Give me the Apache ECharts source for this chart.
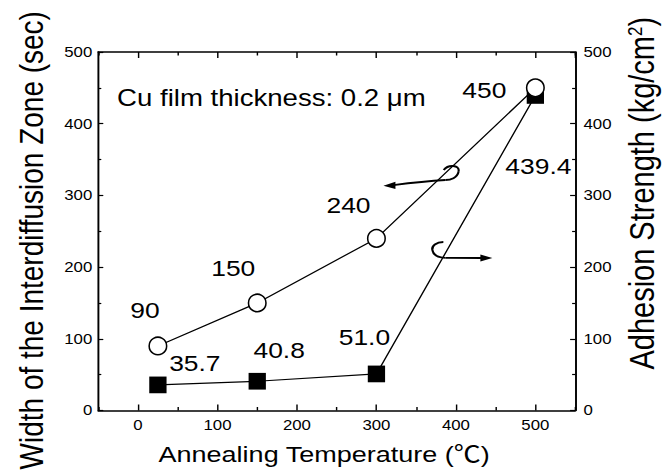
<!DOCTYPE html>
<html>
<head>
<meta charset="utf-8">
<script src="https://cdn.jsdelivr.net/npm/echarts@6/dist/echarts.min.js"></script>
<style>
  html, body { margin: 0; padding: 0; background: #fff; overflow: hidden; }
  #wrap { width: 662px; height: 475px; overflow: hidden; }
  #chart { height: 475px; transform-origin: 0 0; }
</style>
</head>
<body>
<div id="wrap"><div id="chart"></div></div>
<script>
// Annealing temperature of each sample (°C)
const temperatures = [25, 150, 300, 500];
// Width of the interdiffusion zone (sec), left axis, open circles
const interdiffusionWidth = [90, 150, 240, 450];
// Adhesion strength (kg/cm²), right axis, filled squares
const adhesionStrength = [35.7, 40.8, 51.0, 439.4];
// Axis ranges and tick steps
const xRange = [-50, 550];
const yRange = [0, 500];
const xTickStep = 100;
const yTickStep = 100;

// Where each value label sits relative to its marker (px, before horizontal stretch)
const widthLabelOffsets = [[-10.8, -36], [-20, -35], [-23.3, -33], [-42.5, 2]];
const strengthLabelOffsets = [[30.8, -22], [18.3, -31], [-10, -37], [2.5, 71]];

// The figure is drawn slightly wide: render narrower, then stretch horizontally
const SX = 1.2;
const W = 662 / SX;
const el = document.getElementById('chart');
el.style.width = W + 'px';
el.style.transform = 'scaleX(' + SX + ')';
const chart = echarts.init(el, null, { renderer: 'svg' });

const FONT = '"Liberation Sans", Arial, Helvetica, "Noto Sans CJK SC", sans-serif';
const INK = '#000';

// Plot box (pre-stretch px)
const plotLeft = 98.3 / SX, plotRight = (662 - 574.7) / SX, plotTop = 52, plotBottom = 475 - 410.5;
const plotWidth = W - plotLeft - plotRight;
const gridBox = { left: plotLeft, right: plotRight, top: plotTop, bottom: plotBottom, containLabel: false, outerBoundsMode: 'none' };
// Major x ticks start at 0: a companion grid whose left edge sits at x = 0
const zeroLeft = plotLeft + (0 - xRange[0]) / (xRange[1] - xRange[0]) * plotWidth;
const majorBox = Object.assign({}, gridBox, { left: zeroLeft });

const axisLineStyle = { show: true, onZero: false, lineStyle: { color: INK, width: 1.6 } };
const hiddenLine = { show: false, onZero: false };
const tickLabel = { color: INK, fontSize: 14, fontFamily: FONT };
const tickLine = { color: INK, width: 1.2 };

const option = {
  animation: false,
  backgroundColor: '#fff',
  grid: [gridBox, majorBox, Object.assign({}, gridBox)],
  xAxis: [
    { // frame bottom + title
      type: 'value', gridIndex: 0, position: 'bottom', min: xRange[0], max: xRange[1],
      axisLine: axisLineStyle, axisTick: { show: false }, axisLabel: { show: false }, splitLine: { show: false },
      name: 'Annealing Temperature (℃)', nameLocation: 'middle', nameGap: 33,
      nameTextStyle: { color: INK, fontSize: 22.5, fontFamily: FONT, padding: [0, 21, 0, 0] }
    },
    { // frame top
      type: 'value', gridIndex: 0, position: 'top', min: xRange[0], max: xRange[1],
      axisLine: axisLineStyle, axisTick: { show: false }, axisLabel: { show: false }, splitLine: { show: false }
    },
    { // major ticks and labels, bottom
      type: 'value', gridIndex: 1, position: 'bottom', min: 0, max: xRange[1], interval: xTickStep,
      axisLine: hiddenLine,
      axisTick: { show: true, inside: true, length: 6, lineStyle: tickLine },
      axisLabel: { ...tickLabel, margin: 8, showMinLabel: true, showMaxLabel: false },
      splitLine: { show: false }
    },
    { // major ticks, top
      type: 'value', gridIndex: 1, position: 'top', min: 0, max: xRange[1], interval: xTickStep,
      axisLine: hiddenLine,
      axisTick: { show: true, inside: true, length: 6, lineStyle: tickLine },
      axisLabel: { show: false }, splitLine: { show: false }
    },
    { // minor ticks (odd fifties), bottom
      type: 'value', gridIndex: 2, position: 'bottom', min: xRange[0], max: xRange[1], interval: xTickStep,
      axisLine: hiddenLine,
      axisTick: { show: true, inside: true, length: 3.5, lineStyle: tickLine },
      axisLabel: { show: false }, splitLine: { show: false }
    },
    { // minor ticks, top
      type: 'value', gridIndex: 2, position: 'top', min: xRange[0], max: xRange[1], interval: xTickStep,
      axisLine: hiddenLine,
      axisTick: { show: true, inside: true, length: 3.5, lineStyle: tickLine },
      axisLabel: { show: false }, splitLine: { show: false }
    }
  ],
  yAxis: [
    {
      type: 'value', gridIndex: 0, position: 'left', min: yRange[0], max: yRange[1], interval: yTickStep,
      axisLine: axisLineStyle,
      axisTick: { show: true, inside: true, length: 5 / SX, lineStyle: tickLine },
      minorTick: { show: true, splitNumber: 2, length: 3 / SX, lineStyle: tickLine },
      axisLabel: { ...tickLabel, margin: 5 },
      splitLine: { show: false },
      name: 'Width of the Interdiffusion Zone (sec)', nameLocation: 'middle', nameRotate: 90, nameGap: 42,
      nameTextStyle: { color: INK, fontSize: 28, fontFamily: FONT, padding: [0, 18, 0, 0] }
    },
    {
      type: 'value', gridIndex: 0, position: 'right', min: yRange[0], max: yRange[1], interval: yTickStep,
      axisLine: axisLineStyle,
      axisTick: { show: true, inside: true, length: 5 / SX, lineStyle: tickLine },
      minorTick: { show: true, splitNumber: 2, length: 3 / SX, lineStyle: tickLine },
      axisLabel: { ...tickLabel, margin: 7 },
      splitLine: { show: false },
      name: 'Adhesion Strength (kg/cm{sup|2})', nameLocation: 'middle', nameRotate: 90, nameGap: 40,
      nameTextStyle: {
        color: INK, fontSize: 29, fontFamily: FONT, padding: [0, 0, 0, 76],
        rich: { sup: { color: INK, fontSize: 17, fontFamily: FONT, verticalAlign: 'top', lineHeight: 29 } }
      }
    },
    { type: 'value', gridIndex: 1, min: yRange[0], max: yRange[1], show: false },
    { type: 'value', gridIndex: 2, min: yRange[0], max: yRange[1], show: false }
  ],
  series: [
    {
      name: 'Adhesion Strength', type: 'line', xAxisIndex: 0, yAxisIndex: 1,
      symbol: 'rect', symbolSize: [17.3 / SX, 16.7],
      itemStyle: { color: INK, borderColor: INK, borderWidth: 0 },
      lineStyle: { color: INK, width: 1.2 },
      label: {
        show: true, position: 'inside', color: INK, fontSize: 22, fontFamily: FONT,
        formatter: p => p.value[1].toFixed(1)
      },
      data: temperatures.map((t, i) => ({ value: [t, adhesionStrength[i]], label: { offset: strengthLabelOffsets[i] } })),
      z: 3
    },
    {
      name: 'Interdiffusion Zone Width', type: 'line', xAxisIndex: 0, yAxisIndex: 0,
      symbol: 'circle', symbolSize: [17.5 / SX, 17.5],
      itemStyle: { color: '#fff', borderColor: INK, borderWidth: 1.4 },
      lineStyle: { color: INK, width: 1.2 },
      label: {
        show: true, position: 'inside', color: INK, fontSize: 22, fontFamily: FONT,
        formatter: p => String(p.value[1])
      },
      data: temperatures.map((t, i) => ({ value: [t, interdiffusionWidth[i]], label: { offset: widthLabelOffsets[i] } })),
      z: 4
    }
  ]
};
chart.setOption(option);

// Annotations placed in data space (left axis): caption and the two curved arrows
function toPx(x, y) { return chart.convertToPixel({ xAxisIndex: 0, yAxisIndex: 0 }, [x, y]); }
const captionAt = toPx(-26.4, 435.8);
const arrowLeftAt = toPx(386.8, 335.4);
const arrowRightAt = toPx(384.2, 235);

// offsets given in displayed pixels; x is compressed before the stretch
function pt(anchor, dx, dy) { return [anchor[0] + dx / SX, anchor[1] + dy]; }
function curve(anchor, p0, c1, c2, p1) {
  const a = pt(anchor, p0[0], p0[1]), b = pt(anchor, c1[0], c1[1]), c = pt(anchor, c2[0], c2[1]), d = pt(anchor, p1[0], p1[1]);
  return {
    type: 'bezierCurve', silent: true, z: 10,
    shape: { x1: a[0], y1: a[1], cpx1: b[0], cpy1: b[1], cpx2: c[0], cpy2: c[1], x2: d[0], y2: d[1] },
    style: { stroke: INK, lineWidth: 1.8, fill: null }
  };
}
function head(anchor, pts) {
  return { type: 'polygon', silent: true, z: 10, shape: { points: pts.map(p => pt(anchor, p[0], p[1])) }, style: { fill: INK } };
}

chart.setOption({
  graphic: [
    {
      type: 'text', silent: true, z: 10, x: captionAt[0], y: captionAt[1],
      style: { text: 'Cu film thickness: 0.2 μm', fill: INK, fontSize: 23, fontFamily: FONT, align: 'left', verticalAlign: 'middle' }
    },
    curve(arrowLeftAt, [-1.7, 0], [3, -6], [14, -5], [13.3, 1]),
    curve(arrowLeftAt, [13.3, 1], [12, 8], [5, 10], [0, 10]),
    curve(arrowLeftAt, [0, 10], [-15, 11], [-35, 13], [-52, 15]),
    head(arrowLeftAt, [[-62, 15.7], [-50, 11.8], [-50, 19]]),
    curve(arrowRightAt, [0, 0], [-7, 0], [-12, 4], [-11, 8]),
    curve(arrowRightAt, [-11, 8], [-10, 13], [-5, 15.6], [2, 15.8]),
    curve(arrowRightAt, [2, 15.8], [14, 15.9], [26, 16], [38, 16]),
    head(arrowRightAt, [[49, 16], [37, 12.5], [37, 19.5]])
  ]
});
</script>
</body>
</html>
